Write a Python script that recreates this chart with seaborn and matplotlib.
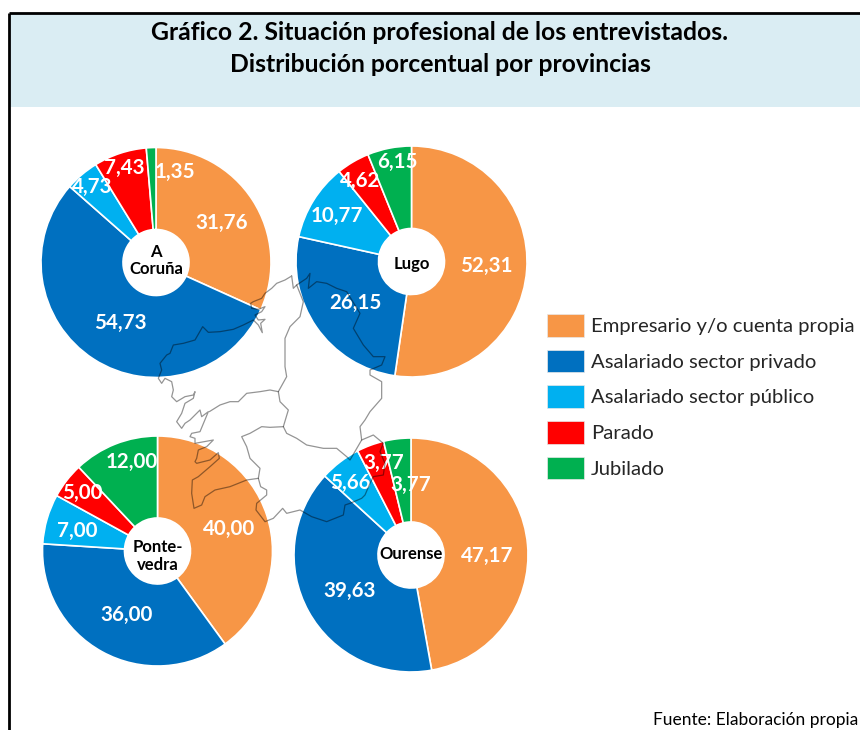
import numpy as np
import matplotlib
matplotlib.use("Agg")
import matplotlib.pyplot as plt
from matplotlib.patches import Patch, Rectangle
import seaborn as sns

# Data
categories = ['Empresario y/o cuenta propia', 'Asalariado sector privado',
              'Asalariado sector público', 'Parado', 'Jubilado']
coruna = [31.76, 54.73, 4.73, 7.43, 1.35]
lugo = [52.31, 26.15, 10.77, 4.62, 6.15]
pontevedra = [40.00, 36.00, 7.00, 5.00, 12.00]
ourense = [47.17, 39.63, 5.66, 3.77, 3.77]
colors = ['#F79646', '#0070C0', '#00B0F0', '#FF0000', '#00B050']

W, H = 860, 730

# Set style
sns.set_theme(style="white")
plt.rcParams['font.family'] = ['Lato', 'DejaVu Sans']
palette = sns.color_palette(colors)

fig = plt.figure(figsize=(W / 100, H / 100), dpi=100, facecolor='white')

# Whole-figure axes in pixels, for the panel, header and legend
bg = fig.add_axes([0, 0, 1, 1])
bg.set_xlim(0, W)
bg.set_ylim(H, 0)
bg.axis('off')
bg.add_patch(Rectangle((10, 13), W, 94, facecolor='#DAEDF3', edgecolor='none'))
bg.plot([9, 9], [H, 13], color='black', lw=2, solid_capstyle='butt')
bg.plot([9, W], [13, 13], color='black', lw=2, solid_capstyle='butt')
bg.text(440, 32, 'Gráfico 2. Situación profesional de los entrevistados.',
        ha='center', va='center', fontsize=17.8, fontweight='bold', color='black')
bg.text(440, 64, 'Distribución porcentual por provincias',
        ha='center', va='center', fontsize=17.8, fontweight='bold', color='black')
bg.text(858, 720, 'Fuente: Elaboración propia', ha='right', va='center',
        fontsize=12.5, color='black')

handles = [Patch(facecolor=c, edgecolor='#E8E8E8', lw=0.5) for c in palette]
bg.legend(handles, categories, loc='upper left', bbox_to_anchor=(539 / W, 1 - 306 / H),
          frameon=False, fontsize=14.6, handlelength=1.84, handleheight=1.34,
          labelspacing=0.64, handletextpad=0.33, borderpad=0.4, borderaxespad=0)


def fmt(p):
    return f'{p:.2f}'.replace('.', ',')


def draw_pie(values, name, cx, cy, r, nudges, name_dy):
    ax = fig.add_axes([(cx - r) / W, 1 - (cy + r) / H, 2 * r / W, 2 * r / H])
    wedges, texts, pcts = ax.pie(values, colors=palette, startangle=90, counterclock=False,
                                 radius=1, autopct=fmt, pctdistance=0.645,
                                 wedgeprops=dict(width=1 - 33 / r, edgecolor='white', linewidth=1.2),
                                 textprops=dict(color='white', fontsize=14.8, fontweight='bold'))
    ax.set_xlim(-1, 1)
    ax.set_ylim(-1, 1)
    # Labels were moved by hand in the original, mostly on the small slices
    for t, (dx, dy) in zip(pcts, nudges):
        x, y = t.get_position()
        t.set_position((x + dx / r, y - (dy + 1) / r))
    ax.text(0, -name_dy / r, name, ha='center', va='center', fontsize=12, fontweight='bold',
            color='black', linespacing=1.12)


draw_pie(coruna, 'A\nCoruña', 156, 262.5, 115,
         [(3, 0), (5, -3), (-16, -20), (-8, -25), (22, -17)], -2)
draw_pie(lugo, 'Lugo', 411.5, 261.5, 115.5,
         [(1, -2), (5, -2), (-11.5, -7.5), (-14, -17), (0, -27)], 2)
draw_pie(pontevedra, 'Ponte-\nvedra', 157.5, 551, 115,
         [(1.5, 0), (5, -2), (-9.5, 0), (-17, -14), (1.5, -21)], 5)
draw_pie(ourense, 'Ourense', 411, 555, 117,
         [(1, 7), (5, -1.5), (-15, -13), (-1, -22), (9, 4)], -1)

outline = [
    [(485, 48), (465, 60), (440, 70), (425, 85), (405, 100), (395, 115), (370, 125), (362, 130),
     (365, 145), (385, 148), (405, 140), (395, 155), (375, 165), (385, 180), (405, 178), (392, 190),
     (397, 218), (385, 195), (370, 180), (340, 195), (310, 208), (270, 215), (235, 217), (218, 200),
     (195, 240), (160, 250), (130, 255), (120, 280), (110, 285), (90, 310), (95, 330), (85, 355),
     (95, 370), (105, 355), (125, 365), (130, 390), (125, 410), (140, 425), (165, 410), (190, 405),
     (195, 395), (190, 415), (165, 430), (155, 460), (140, 485), (155, 505), (165, 490), (180, 480),
     (210, 450), (215, 470), (235, 455), (210, 515), (185, 520), (180, 530), (195, 535), (195, 550),
     (250, 540), (230, 560), (205, 570), (200, 595), (195, 605), (200, 610), (240, 600), (265, 578),
     (268, 595), (240, 620), (205, 650), (187, 660), (185, 700), (192, 745), (215, 735), (225, 710),
     (255, 690), (300, 680), (350, 660), (385, 655), (392, 680), (410, 690), (410, 705), (380, 730),
     (378, 750), (405, 785), (430, 775), (458, 745), (470, 760), (510, 750), (545, 770), (590, 785),
     (640, 765), (645, 735), (660, 730), (695, 715), (705, 705), (720, 670), (730, 650), (760, 645),
     (765, 610), (750, 575), (760, 550), (730, 525), (695, 540), (690, 500), (705, 480), (720, 455),
     (755, 415), (755, 365), (720, 345), (720, 330), (755, 315), (765, 290), (730, 290), (700, 255),
     (670, 205), (690, 160), (650, 95), (620, 85), (590, 70), (560, 65), (535, 85), (540, 40),
     (530, 55), (500, 75), (490, 85), (485, 48)],
    [(500, 75), (520, 125), (510, 170), (480, 200), (465, 235), (465, 320), (470, 350), (445, 395),
     (420, 390), (390, 395), (350, 400), (325, 425), (300, 425), (270, 435), (238, 455)],
    [(445, 395), (450, 425), (475, 450), (460, 500), (420, 502), (395, 500), (360, 520), (335, 530),
     (350, 560), (360, 595), (390, 625), (385, 655)],
    [(460, 500), (470, 520), (500, 535), (530, 555), (580, 565), (620, 565), (650, 590), (660, 600),
     (695, 540)],
]

top = fig.add_axes([0, 0, 1, 1])
top.set_xlim(0, W)
top.set_ylim(H, 0)
top.axis('off')
top.patch.set_alpha(0)
for part in outline:
    pts = np.array(part)
    top.plot(130 + pts[:, 0] / 3, 260 + pts[:, 1] / 3, color='black', alpha=0.42, lw=0.9)

fig.savefig('out.png', dpi=100)
